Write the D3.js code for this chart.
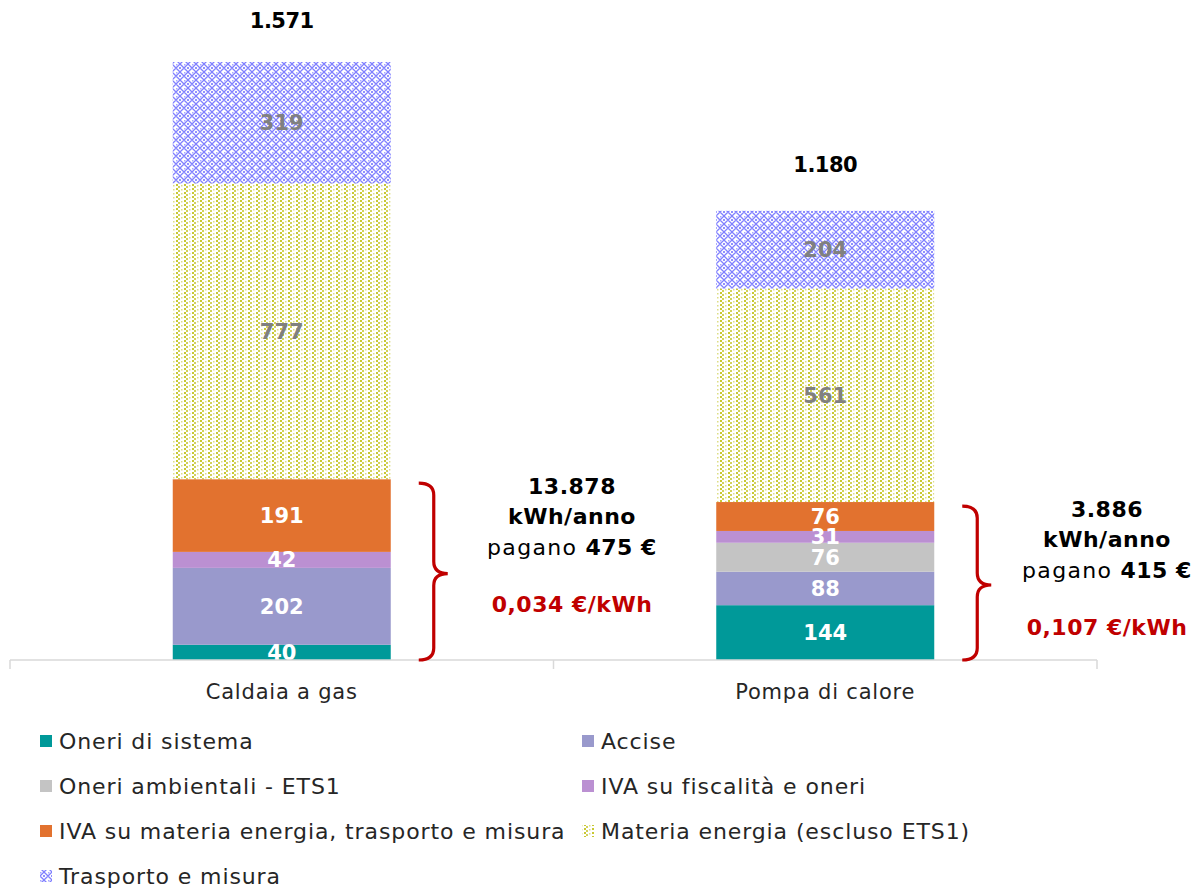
<!DOCTYPE html>
<html>
<head>
<meta charset="utf-8">
<script src="https://cdn.jsdelivr.net/npm/d3@7"></script>
<style>
  body { margin: 0; background: #fff; }
  svg text { font-family: "DejaVu Sans", "Noto Sans", sans-serif; }
</style>
</head>
<body>
<div id="chart"></div>
<script>
// data
var categories = ["Caldaia a gas", "Pompa di calore"];
var seriesNames = ["Oneri di sistema", "Accise", "Oneri ambientali - ETS1", "IVA su fiscalità e oneri",
  "IVA su materia energia, trasporto e misura", "Materia energia (escluso ETS1)", "Trasporto e misura"];
var oneriSistema = [40, 144];
var accise = [202, 88];
var oneriAmbientali = [0, 76];
var ivaFiscalita = [42, 31];
var ivaMateria = [191, 76];
var materiaEnergia = [777, 561];
var trasporto = [319, 204];
var consumi = [13878, 3886];   // kWh/anno
var spesa = [475, 415];        // € pagati (parte in graffa)

var seriesValues = [oneriSistema, accise, oneriAmbientali, ivaFiscalita, ivaMateria, materiaEnergia, trasporto];
var colors = ["#009999", "#9999CC", "#C4C4C4", "#BB90D2", "#E2722F", "url(#patYellow)", "url(#patBlue)"];
var labelColors = ["#fff", "#fff", "#fff", "#fff", "#fff", "#808080", "#808080"];

var it = d3.formatLocale({decimal: ",", thousands: ".", grouping: [3], currency: ["", " €"]});
var fmtInt = it.format(",d");
var fmt3 = it.format(".3f");

var svgWidth = 1193, svgHeight = 890;
var svg = d3.select("#chart").append("svg")
  .attr("width", svgWidth).attr("height", svgHeight);

// patterns
var defs = svg.append("defs");
var py = defs.append("pattern").attr("id", "patYellow").attr("patternUnits", "userSpaceOnUse")
  .attr("width", 8).attr("height", 4);
py.append("rect").attr("width", 8).attr("height", 4).attr("fill", "#fff");
py.append("rect").attr("x", 0).attr("y", 0).attr("width", 2).attr("height", 2).attr("fill", "#C8C832");
py.append("rect").attr("x", 2).attr("y", 2).attr("width", 2).attr("height", 2).attr("fill", "#D2D25A");
py.append("rect").attr("x", 5).attr("y", 1).attr("width", 1.5).attr("height", 1.5).attr("fill", "#DEDE85");

var pb = defs.append("pattern").attr("id", "patBlue").attr("patternUnits", "userSpaceOnUse")
  .attr("width", 8).attr("height", 8);
pb.append("rect").attr("width", 8).attr("height", 8).attr("fill", "#fff");
pb.append("path").attr("d", "M0,4 L4,0 L8,4 L4,8 Z").attr("fill", "none")
  .attr("stroke", "#8080FF").attr("stroke-width", 1.3);
pb.append("rect").attr("x", 3).attr("y", 3).attr("width", 2).attr("height", 2).attr("fill", "#9090FF");
pb.append("rect").attr("x", 0).attr("y", 0).attr("width", 1.5).attr("height", 1.5).attr("fill", "#A8A8FF");

// scales
var x = d3.scaleBand().domain(categories).range([10, 1097]).paddingInner(0).paddingOuter(0);
var barW = 218;
var y = d3.scaleLinear().domain([0, 1571]).range([660, 62]);

var stackData = categories.map(function(c, i) {
  var o = {cat: c};
  seriesNames.forEach(function(s, j) { o[s] = seriesValues[j][i]; });
  return o;
});
var stack = d3.stack().keys(seriesNames)(stackData);

var g = svg.append("g");
stack.forEach(function(layer, j) {
  g.selectAll(".seg" + j).data(layer).enter().append("rect")
    .attr("x", function(d) { return x(d.data.cat) + (x.bandwidth() - barW) / 2; })
    .attr("width", barW)
    .attr("y", function(d) { return y(d[1]); })
    .attr("height", function(d) { return y(d[0]) - y(d[1]); })
    .attr("fill", colors[j]);
});
stack.forEach(function(layer, j) {
  g.selectAll(".lab" + j).data(layer.filter(function(d) { return d[1] - d[0] > 0; })).enter().append("text")
    .attr("x", function(d) { return x(d.data.cat) + x.bandwidth() / 2; })
    .attr("y", function(d) { return (y(d[0]) + y(d[1])) / 2; })
    .attr("dy", "0.36em")
    .attr("text-anchor", "middle")
    .attr("font-size", 21).attr("font-weight", 700)
    .attr("fill", labelColors[j])
    .text(function(d) { return d[1] - d[0]; });
});

// totals
var totals = categories.map(function(c, i) { return d3.sum(seriesValues, function(s) { return s[i]; }); });
g.selectAll(".tot").data(totals).enter().append("text")
  .attr("x", function(d, i) { return x(categories[i]) + x.bandwidth() / 2; })
  .attr("y", function(d) { return Math.max(y(d) - 39, 28); })
  .attr("text-anchor", "middle")
  .attr("font-size", 21).attr("font-weight", 700).attr("letter-spacing", -0.5).attr("fill", "#000")
  .text(function(d) { return fmtInt(d); });

// axis
var ax = svg.append("g").attr("transform", "translate(0,660)");
ax.append("line").attr("x1", x.range()[0]).attr("x2", x.range()[1])
  .attr("stroke", "#D9D9D9").attr("stroke-width", 1.5);
var bounds = categories.map(function(c) { return x(c); }).concat([x.range()[1]]);
ax.selectAll(".tk").data(bounds).enter().append("line")
  .attr("x1", function(d) { return d; }).attr("x2", function(d) { return d; })
  .attr("y1", 0).attr("y2", 9).attr("stroke", "#D9D9D9").attr("stroke-width", 1.5);
ax.selectAll(".cat").data(categories).enter().append("text")
  .attr("x", function(d) { return x(d) + x.bandwidth() / 2; })
  .attr("y", 39)
  .attr("text-anchor", "middle").attr("font-size", 21).attr("letter-spacing", 0.8).attr("fill", "#262626")
  .text(function(d) { return d; });

// braces and annotations
categories.forEach(function(c, i) {
  var x0 = x(c) + (x.bandwidth() + barW) / 2 + 28;
  var x1 = x0 + 15, x2 = x0 + 29;
  var top = y(spesa[i]) + 4, bot = y(0), mid = (top + bot) / 2 + 2, r = 12;
  var path = "M" + x0 + "," + top + " Q" + x1 + "," + top + " " + x1 + "," + (top + r) +
    " L" + x1 + "," + (mid - r) + " Q" + x1 + "," + mid + " " + x2 + "," + mid +
    " Q" + x1 + "," + mid + " " + x1 + "," + (mid + r) +
    " L" + x1 + "," + (bot - r) + " Q" + x1 + "," + bot + " " + x0 + "," + bot;
  svg.append("path").attr("d", path).attr("fill", "none")
    .attr("stroke", "#C00000").attr("stroke-width", 3.2);

  var cx = i === 0 ? 572 : 1107;
  var ty = top + 11;
  var t = svg.append("g").attr("text-anchor", "middle").attr("font-size", 22);
  t.append("text").attr("x", cx).attr("y", ty).attr("font-weight", 700).attr("letter-spacing", 0.5)
    .text(fmtInt(consumi[i]));
  t.append("text").attr("x", cx).attr("y", ty + 30).attr("font-weight", 700).attr("letter-spacing", 0.5)
    .text("kWh/anno");
  var p = t.append("text").attr("x", cx).attr("y", ty + 61);
  p.append("tspan").attr("letter-spacing", 1.3).text("pagano ");
  p.append("tspan").attr("font-weight", 700).attr("letter-spacing", 0.5).text(spesa[i] + " €");
  t.append("text").attr("x", cx).attr("y", ty + 118).attr("font-weight", 700).attr("letter-spacing", 0.5)
    .attr("fill", "#C00000")
    .text(fmt3(spesa[i] / consumi[i]) + " €/kWh");
});

// legend
var legend = svg.append("g");
seriesNames.forEach(function(s, j) {
  var lx = j % 2 === 0 ? 40 : 582;
  var ly = 741 + Math.floor(j / 2) * 45;
  legend.append("rect").attr("x", lx).attr("y", ly - 6).attr("width", 12).attr("height", 12)
    .attr("fill", colors[j]);
  legend.append("text").attr("x", lx + 19).attr("y", ly).attr("dy", "0.35em")
    .attr("font-size", 22).attr("letter-spacing", 0.9).attr("fill", "#262626").text(s);
});
</script>
</body>
</html>
